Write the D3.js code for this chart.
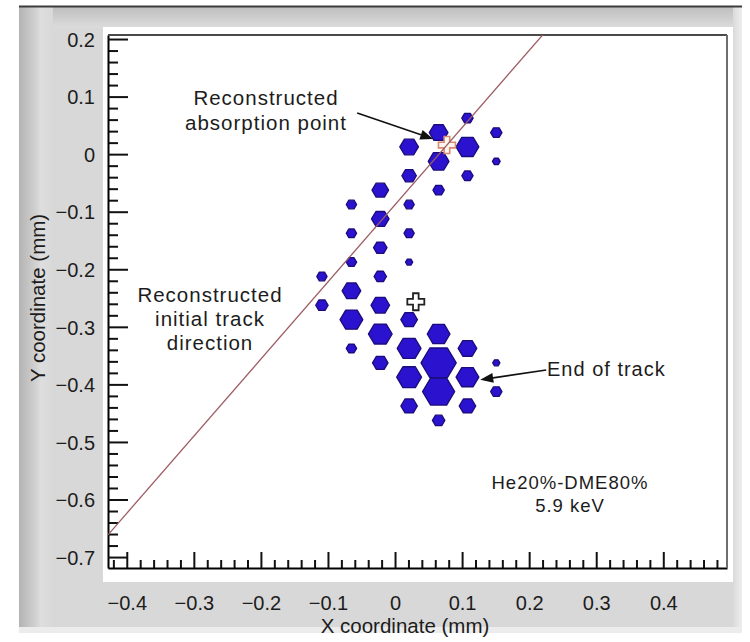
<!DOCTYPE html>
<html>
<head>
<meta charset="utf-8">
<script src="https://cdn.jsdelivr.net/npm/d3@7"></script>
<style>
  body { margin: 0; background: #ffffff; }
  svg { display: block; font-family: "Liberation Sans", Arial, sans-serif; }
</style>
</head>
<body>
<svg id="chart" width="750" height="642"></svg>
<script>
// Pixel hits of a photoelectron track on a hexagonal readout (50 µm pitch)
const hitX = [0.108, 0.065, 0.151, 0.021, 0.108, 0.065, 0.151, 0.021, 0.108, -0.022,
              0.065, -0.065, 0.021, -0.022, -0.065, 0.021, -0.022, -0.065, 0.021, -0.109,
              -0.022, -0.065, -0.109, -0.022, -0.065, 0.021, -0.022, 0.065, -0.065, 0.021,
              0.108, -0.022, 0.065, 0.151, 0.021, 0.108, 0.065, 0.151, 0.021, 0.108, 0.065];
const hitY = [0.0625, 0.0375, 0.0375, 0.0125, 0.0125, -0.0125, -0.0125, -0.0375, -0.0375, -0.0625,
              -0.0625, -0.0875, -0.0875, -0.1125, -0.1375, -0.1375, -0.1625, -0.1875, -0.1875, -0.2125,
              -0.2125, -0.2375, -0.2625, -0.2625, -0.2875, -0.2875, -0.3125, -0.3125, -0.3375, -0.3375,
              -0.3375, -0.3625, -0.3625, -0.3625, -0.3875, -0.3875, -0.4125, -0.4125, -0.4375, -0.4375, -0.4625];
// collected charge per pixel (arbitrary units)
const hitCharge = [30, 81, 30, 81, 121, 100, 14, 49, 30, 64,
                   30, 25, 25, 72, 25, 25, 42, 25, 12, 25,
                   36, 81, 36, 81, 121, 64, 132, 121, 25, 132,
                   81, 56, 289, 12, 144, 121, 240, 30, 64, 64, 36];

// reconstructed quantities (mm)
const absorptionPoint = [0.0774, 0.0158];
const barycenter = [0.031, -0.2564];
const trackSlope = 1.34;   // dy/dx of the reconstructed initial direction

// axis ticks
const xTickValues = [-0.4, -0.3, -0.2, -0.1, 0, 0.1, 0.2, 0.3, 0.4];
const xTickLabels = ["\u22120.4", "\u22120.3", "\u22120.2", "\u22120.1", "0", "0.1", "0.2", "0.3", "0.4"];
const yTickValues = [0.2, 0.1, 0, -0.1, -0.2, -0.3, -0.4, -0.5, -0.6, -0.7];
const yTickLabels = ["0.2", "0.1", "0", "\u22120.1", "\u22120.2", "\u22120.3", "\u22120.4", "\u22120.5", "\u22120.6", "\u22120.7"];

// text
const xTitle = "X coordinate (mm)";
const yTitle = "Y coordinate (mm)";
const absorptionLabel = ["Reconstructed", "absorption point"];
const directionLabel = ["Reconstructed", "initial track", "direction"];
const endLabel = "End of track";
const gasLabel = ["He20%-DME80%", "5.9 keV"];

const svg = d3.select("#chart");
const plot = { left: 108, right: 727, top: 35, bottom: 568 };

const x = d3.scaleLinear().domain([-0.428, 0.495]).range([plot.left, plot.right]);
const y = d3.scaleLinear().domain([-0.719, 0.207]).range([plot.bottom, plot.top]);
const rScale = d3.scaleSqrt().domain([0, 289]).range([0, 17.6]);

// ---------- window-like panel ----------
const defs = svg.append("defs");
const gTop = defs.append("linearGradient").attr("id", "gTop").attr("x1", 0).attr("y1", 0).attr("x2", 0).attr("y2", 1);
gTop.append("stop").attr("offset", "0%").attr("stop-color", "#bdbdbd");
gTop.append("stop").attr("offset", "100%").attr("stop-color", "#dcdcdc");
const gLeft = defs.append("linearGradient").attr("id", "gLeft").attr("x1", 0).attr("y1", 0).attr("x2", 1).attr("y2", 0);
gLeft.append("stop").attr("offset", "0%").attr("stop-color", "#b3b3b3");
gLeft.append("stop").attr("offset", "50%").attr("stop-color", "#d2d2d2");
gLeft.append("stop").attr("offset", "65%").attr("stop-color", "#dedede");
gLeft.append("stop").attr("offset", "100%").attr("stop-color", "#d8d8d8");
const gRight = defs.append("linearGradient").attr("id", "gRight").attr("x1", 0).attr("y1", 0).attr("x2", 1).attr("y2", 0);
gRight.append("stop").attr("offset", "0%").attr("stop-color", "#dadada");
gRight.append("stop").attr("offset", "100%").attr("stop-color", "#eeeeee");

svg.append("rect").attr("x", 19).attr("y", 6).attr("width", 723).attr("height", 624).attr("fill", "#d8d8d8");
svg.append("rect").attr("x", 19).attr("y", 6).attr("width", 723).attr("height", 22).attr("fill", "url(#gTop)");
svg.append("rect").attr("x", 19).attr("y", 6).attr("width", 34).attr("height", 624).attr("fill", "url(#gLeft)");
svg.append("rect").attr("x", 733).attr("y", 6).attr("width", 9).attr("height", 624).attr("fill", "url(#gRight)");
svg.append("rect").attr("x", 19).attr("y", 627).attr("width", 723).attr("height", 6).attr("fill", "#ececec");
svg.append("line").attr("x1", 19).attr("x2", 742).attr("y1", 6.5).attr("y2", 6.5)
  .attr("stroke", "#3c3c3c").attr("stroke-width", 2);

// white plotting surface
svg.append("rect").attr("x", 103).attr("y", 27).attr("width", 630).attr("height", 555).attr("fill", "#ffffff");

// ---------- axes ----------
const tickColor = "#111";
const xMinor = d3.range(-42, 49, 2).filter(v => v % 10 !== 0).map(v => v / 100);
const yMinor = d3.range(-70, 21, 2).filter(v => v % 10 !== 0).map(v => v / 100);

const xMinorAxis = svg.append("g").attr("transform", `translate(0,${plot.bottom})`)
  .call(d3.axisBottom(x).tickValues(xMinor).tickSize(-8).tickSizeOuter(0).tickFormat(""));
xMinorAxis.select(".domain").remove();
xMinorAxis.selectAll("line").attr("stroke", tickColor).attr("stroke-width", 2);

const yMinorAxis = svg.append("g").attr("transform", `translate(${plot.left},0)`)
  .call(d3.axisLeft(y).tickValues(yMinor).tickSize(-10).tickSizeOuter(0).tickFormat(""));
yMinorAxis.select(".domain").remove();
yMinorAxis.selectAll("line").attr("stroke", tickColor).attr("stroke-width", 2);

const xAxis = svg.append("g").attr("transform", `translate(0,${plot.bottom})`)
  .call(d3.axisBottom(x).tickValues(xTickValues).tickSize(-16).tickSizeOuter(0).tickPadding(28)
    .tickFormat((d, i) => xTickLabels[i]));
const yAxis = svg.append("g").attr("transform", `translate(${plot.left},0)`)
  .call(d3.axisLeft(y).tickValues(yTickValues).tickSize(-20).tickSizeOuter(0).tickPadding(13)
    .tickFormat((d, i) => yTickLabels[i]));

[xAxis, yAxis].forEach(a => {
  a.select(".domain").attr("stroke", "#000").attr("stroke-width", 2);
  a.selectAll(".tick line").attr("stroke", tickColor).attr("stroke-width", 2);
  a.selectAll(".tick text").attr("fill", "#1c1c1c").style("font-size", "20px")
    .style("font-family", "'Liberation Sans', Arial, sans-serif");
});
yAxis.selectAll(".tick text").attr("dy", "0.36em");

// upper and right frame of the plot box
svg.append("line").attr("x1", plot.left).attr("x2", plot.right).attr("y1", plot.top).attr("y2", plot.top)
  .attr("stroke", "#4a4a4a").attr("stroke-width", 2);
svg.append("line").attr("x1", plot.right).attr("x2", plot.right).attr("y1", plot.top).attr("y2", plot.bottom)
  .attr("stroke", "#6e6e6e").attr("stroke-width", 2);

// axis titles
svg.append("text").attr("x", 405).attr("y", 633)
  .attr("text-anchor", "middle").attr("fill", "#1c1c1c").style("font-size", "20.5px").text(xTitle);
svg.append("text").attr("transform", "translate(45,298) rotate(-90)")
  .attr("text-anchor", "middle").attr("fill", "#1c1c1c").style("font-size", "20.5px").text(yTitle);

// ---------- track pixels ----------
const hits = hitX.map((v, i) => ({ x: v, y: hitY[i], q: hitCharge[i] }));
function hexPath(r) {
  const hw = r, hh = r * 0.84;
  return `M${-hw},0L${-hw / 2},${-hh}L${hw / 2},${-hh}L${hw},0L${hw / 2},${hh}L${-hw / 2},${hh}Z`;
}
svg.append("g").selectAll("path").data(hits).join("path")
  .attr("transform", d => `translate(${x(d.x)},${y(d.y)})`)
  .attr("d", d => hexPath(rScale(d.q)))
  .attr("fill", "#2a12cf")
  .attr("stroke", "#1b0c7a")
  .attr("stroke-width", 1.3)
  .attr("stroke-linejoin", "round");

// ---------- reconstructed points ----------
function crossPath(L, t) {
  return `M${-t},${-L}H${t}V${-t}H${L}V${t}H${t}V${L}H${-t}V${t}H${-L}V${-t}H${-t}Z`;
}
svg.append("path").attr("transform", `translate(${x(barycenter[0])},${y(barycenter[1])})`)
  .attr("d", crossPath(8.5, 2.8)).attr("fill", "#ffffff").attr("stroke", "#222").attr("stroke-width", 1.8);
svg.append("path").attr("transform", `translate(${x(absorptionPoint[0])},${y(absorptionPoint[1])})`)
  .attr("d", crossPath(8.5, 2.8)).attr("fill", "#fff6f0").attr("stroke", "#d98a70").attr("stroke-width", 1.6);

// reconstructed initial direction through the absorption point
svg.append("clipPath").attr("id", "plotClip").append("rect")
  .attr("x", plot.left).attr("y", plot.top).attr("width", plot.right - plot.left).attr("height", plot.bottom - plot.top);
const lineX = x.domain();
svg.append("line").attr("clip-path", "url(#plotClip)")
  .attr("x1", x(lineX[0])).attr("y1", y(absorptionPoint[1] + trackSlope * (lineX[0] - absorptionPoint[0])))
  .attr("x2", x(lineX[1])).attr("y2", y(absorptionPoint[1] + trackSlope * (lineX[1] - absorptionPoint[0])))
  .attr("stroke", "#9c5c62").attr("stroke-width", 1.3);

// ---------- annotations ----------
function arrow(from, to) {
  const x1 = x(from[0]), y1 = y(from[1]), x2 = x(to[0]), y2 = y(to[1]);
  const a = Math.atan2(y2 - y1, x2 - x1), len = 13, hw = 5;
  const bx = x2 - len * Math.cos(a), by = y2 - len * Math.sin(a);
  svg.append("line").attr("x1", x1).attr("y1", y1).attr("x2", bx).attr("y2", by)
    .attr("stroke", "#111").attr("stroke-width", 1.6);
  svg.append("path")
    .attr("d", `M${x2},${y2}L${bx - hw * Math.sin(a)},${by + hw * Math.cos(a)}L${bx + hw * Math.sin(a)},${by - hw * Math.cos(a)}Z`)
    .attr("fill", "#111");
}
arrow([-0.0564, 0.0714], [0.057, 0.0263]);
arrow([0.2255, -0.375], [0.127, -0.392]);

function label(lines, cx, baseline, lh, size, anchor) {
  const t = svg.append("text").attr("fill", "#1c1c1c").attr("text-anchor", anchor)
    .style("font-size", size + "px").style("letter-spacing", "1px");
  lines.forEach((s, i) => t.append("tspan").attr("x", cx).attr("y", baseline + i * lh).text(s));
}
label(absorptionLabel, 266, 105, 25, 20.5, "middle");
label(directionLabel, 210, 302, 24, 20.5, "middle");
label([endLabel], 547, 376, 0, 20, "start");
label(gasLabel, 570, 489, 23, 18.5, "middle");
</script>
</body>
</html>
